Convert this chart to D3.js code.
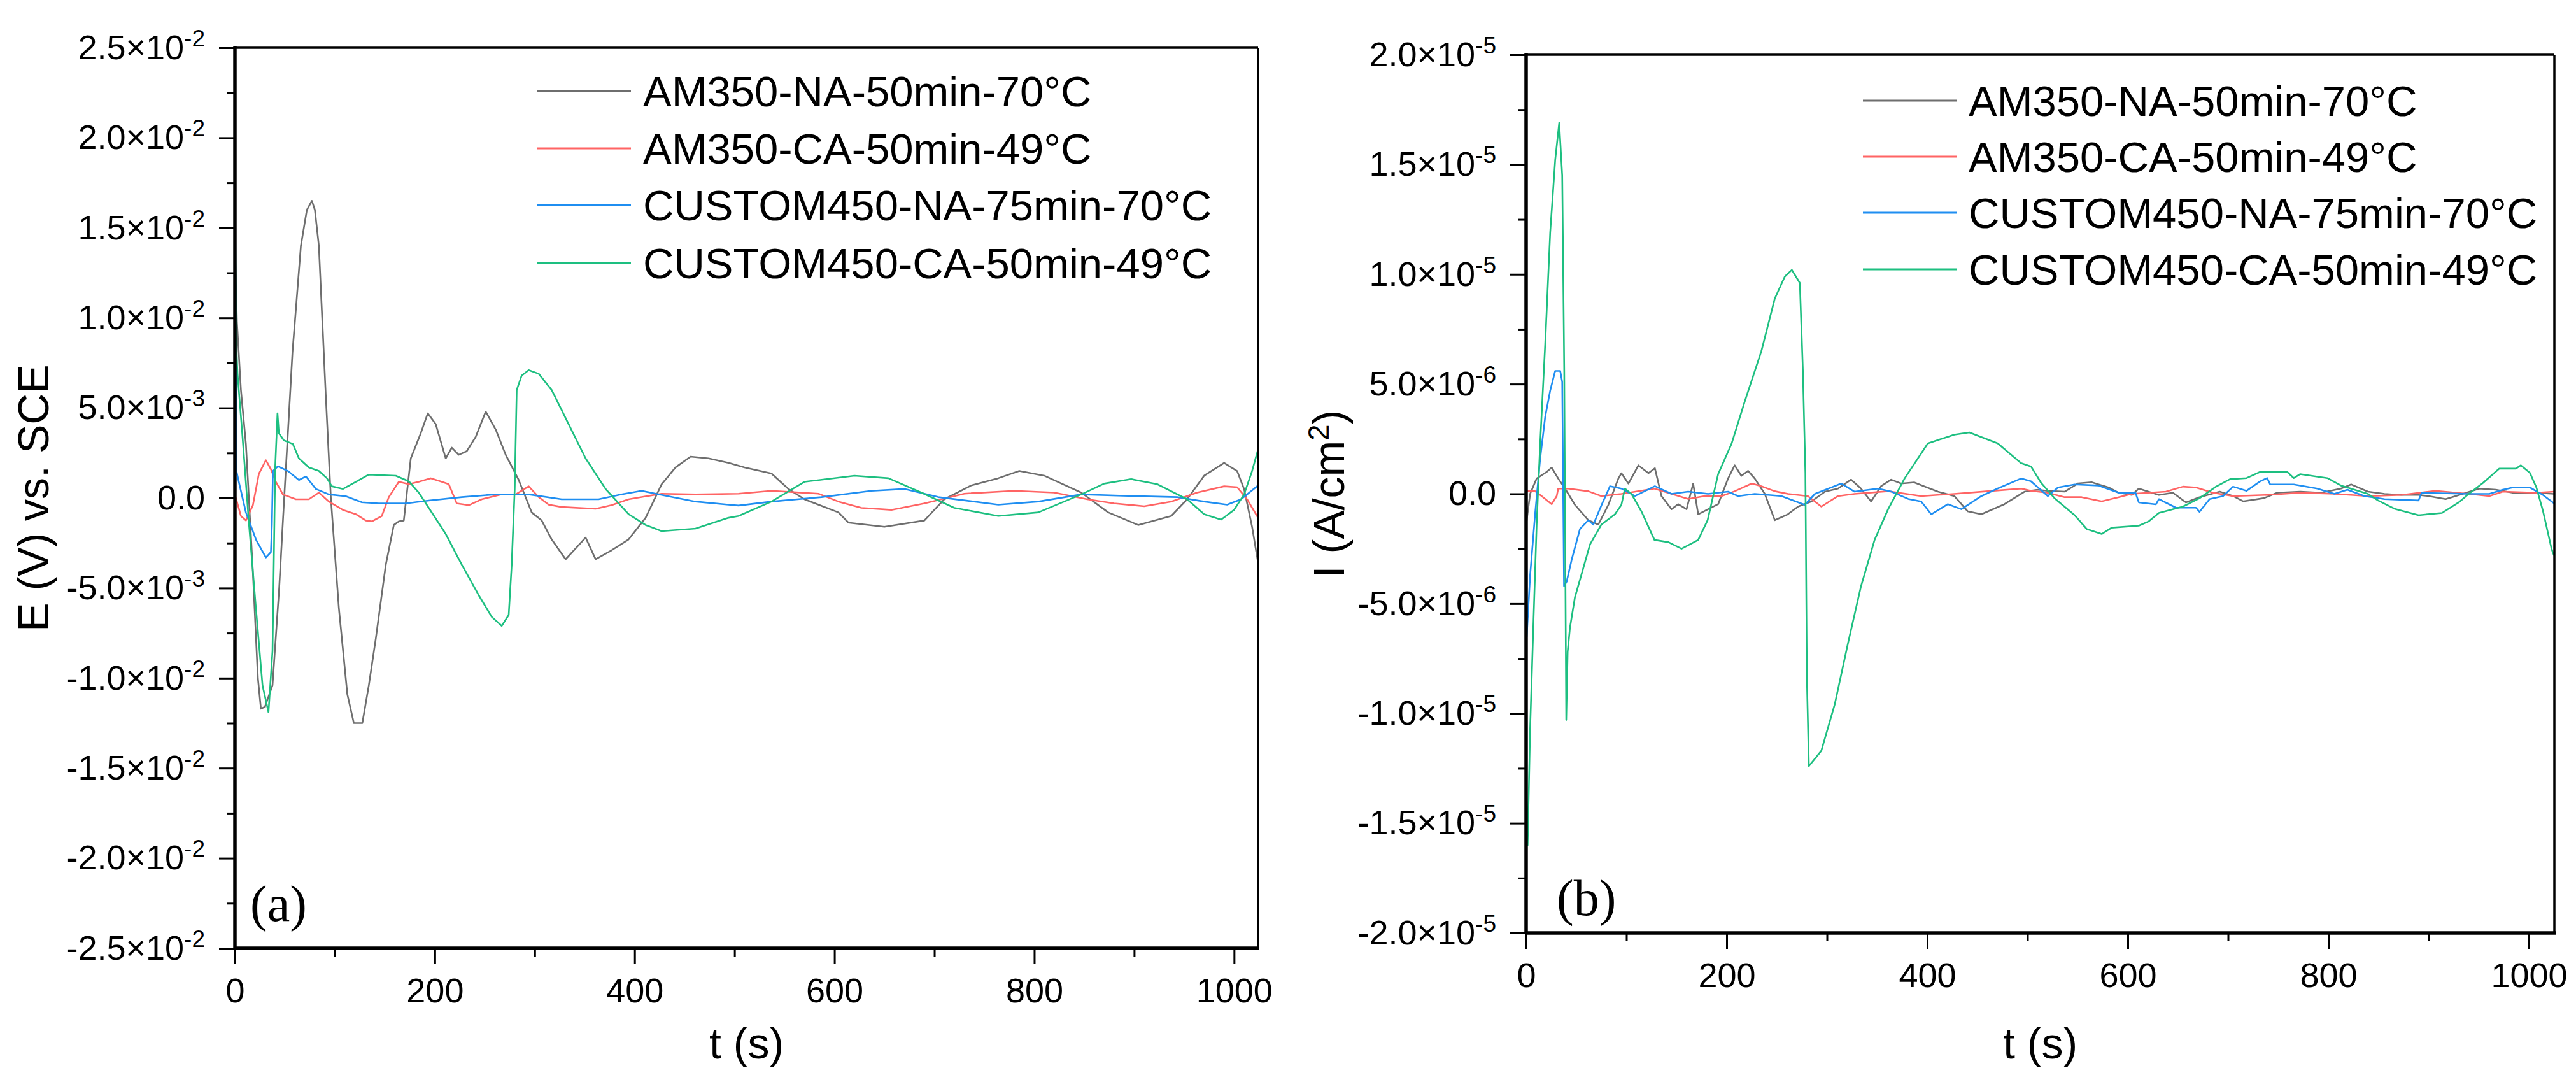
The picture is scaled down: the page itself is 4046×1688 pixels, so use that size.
<!DOCTYPE html>
<html><head><meta charset="utf-8">
<script src="https://cdn.jsdelivr.net/npm/d3@7"></script>
<style>html,body{margin:0;padding:0;background:#fff;} svg{display:block}</style>
</head><body>
<svg id="c" width="4046" height="1688"></svg>
<script>
// ---------- DATA ----------
const seriesNames = ["AM350-NA-50min-70°C","AM350-CA-50min-49°C","CUSTOM450-NA-75min-70°C","CUSTOM450-CA-50min-49°C"];
const seriesColors = ["#6e6e6e","#ff6464","#1f8ef1","#1dbf80"];

// Panel (a): E (mV) vs t (s)
const E_AM350_NA = [[0,14],[2,9.8],[6,6],[11,3],[17.6,-3.7],[23,-10],[26,-11.7],[30,-11.6],[37.6,-10.4],[44.3,-5],[49.3,0],[57.6,8.1],[66,14],[72,16],[77,16.5],[80,16],[84,14],[90.9,5.7],[96,0],[104,-6.1],[112.5,-10.9],[119,-12.5],[127.5,-12.5],[134,-10.4],[141,-7.8],[151,-3.7],[159,-1.5],[164,-1.3],[169,-1.25],[176,2.2],[186,3.6],[193,4.7],[201,4.1],[211,2.2],[217,2.8],[224,2.4],[232,2.6],[241,3.4],[251,4.8],[261,3.8],[271,2.4],[284,1.0],[297,-0.8],[307,-1.25],[317,-2.3],[331,-3.4],[341,-2.8],[351,-2.2],[361,-3.4],[377,-2.9],[394,-2.3],[411,-1.1],[427,0.76],[441,1.7],[456,2.3],[474,2.2],[494,1.95],[510,1.7],[537,1.36],[554,0.5],[570,-0.07],[604,-0.8],[614,-1.37],[650,-1.6],[690,-1.25],[710,-0.07],[737,0.7],[764,1.1],[785,1.5],[810,1.24],[847,0.3],[874,-0.8],[904,-1.5],[937,-1.0],[953,-0.07],[970,1.24],[990,1.95],[1003,1.5],[1010,0.5],[1018,-1.6],[1024,-3.6]];
const E_AM350_CA = [[0,0],[1,0],[6,-1.0],[11,-1.25],[18,-0.4],[24,1.35],[31,2.1],[36,1.6],[41,0.9],[48,0.2],[61,-0.07],[74,-0.07],[84,0.3],[94,-0.2],[108,-0.66],[121,-0.9],[131,-1.25],[137,-1.3],[147,-1.0],[154,0.05],[164,0.9],[174,0.77],[184,0.9],[196,1.1],[207,0.9],[214,0.77],[222,-0.3],[234,-0.4],[247,-0.07],[267,0.2],[281,0.2],[294,0.65],[304,0.05],[314,-0.37],[327,-0.5],[361,-0.6],[377,-0.4],[394,-0.07],[427,0.24],[461,0.2],[504,0.24],[537,0.4],[584,0.24],[604,-0.2],[627,-0.55],[657,-0.66],[690,-0.3],[730,0.24],[780,0.4],[820,0.3],[853,-0.07],[880,-0.3],[910,-0.46],[937,-0.2],[963,0.3],[990,0.65],[1003,0.6],[1013,-0.07],[1024,-1.1]];
const E_C450_NA = [[0,22],[0.8,8.5],[1.5,1.5],[4.3,0.8],[11,-0.8],[21,-2.3],[31,-3.3],[36,-3.0],[37,-1.5],[38,1.5],[43,1.76],[53,1.5],[64,1.0],[71,1.2],[81,0.5],[94,0.2],[111,0.1],[127,-0.24],[144,-0.3],[171,-0.3],[194,-0.14],[227,0.05],[261,0.2],[294,0.2],[327,-0.07],[364,-0.07],[387,0.2],[407,0.4],[424,0.2],[461,-0.2],[494,-0.37],[504,-0.42],[537,-0.2],[587,0.05],[637,0.4],[670,0.5],[704,0.05],[764,-0.37],[804,-0.2],[847,0.2],[904,0.1],[943,0.05],[970,-0.2],[993,-0.37],[1007,-0.07],[1024,0.7]];
const E_C450_CA = [[0,18.4],[1,9],[2.6,6.9],[7.6,3.4],[14,-1.4],[21,-6.1],[27.6,-10.4],[33.6,-11.9],[37.6,-8.5],[40.3,1.7],[42.6,4.7],[44,3.6],[49,3.2],[58,3.0],[64,2.2],[74,1.7],[84,1.5],[92,1.1],[97,0.65],[108,0.5],[121,0.9],[134,1.3],[161,1.24],[174,0.93],[184,0.3],[194,-0.55],[211,-2.0],[227,-3.7],[244,-5.4],[257,-6.6],[267,-7.1],[274,-6.5],[277,-3.7],[280,0.5],[282,6.0],[287,6.8],[294,7.1],[304,6.9],[317,6.0],[334,4.1],[351,2.2],[371,0.5],[394,-0.9],[411,-1.5],[427,-1.84],[461,-1.7],[494,-1.1],[504,-1.0],[537,-0.2],[570,0.9],[620,1.24],[654,1.1],[687,0.3],[720,-0.55],[764,-1.0],[804,-0.8],[847,0.2],[870,0.8],[897,1.05],[923,0.77],[953,-0.07],[970,-0.9],[987,-1.2],[1000,-0.66],[1010,0.2],[1018,1.5],[1024,2.7]];

// Panel (b): I (µA/cm²) vs t (s)
const I_AM350_NA = [[0,-1.4],[4,0],[10.5,0.7],[20.5,1.0],[25.5,1.2],[32,0.7],[38.8,0.24],[48.7,-0.5],[62,-1.2],[72,-1.4],[82,-0.5],[92,0.7],[95,0.94],[102,0.47],[112,1.3],[122,0.94],[128.4,1.17],[135,-0.1],[145,-0.7],[151.6,-0.47],[160,-0.7],[166.6,0.47],[171.6,-0.93],[181.5,-0.7],[191.5,-0.47],[201.4,0.7],[208,1.3],[214.7,0.82],[221.4,1.05],[228,0.7],[238,0],[248,-1.2],[261,-0.93],[271.2,-0.58],[284.4,-0.35],[298,0.1],[311,0.24],[324,0.65],[334,0.24],[344,-0.35],[354,0.35],[364,0.65],[374,0.47],[387,0.52],[410.6,0.1],[427,-0.1],[440.5,-0.8],[454,-0.93],[477,-0.47],[497,0.1],[510,0.19],[520,0.14],[537,0.1],[550.5,0.48],[564,0.53],[581,0.29],[591,0.05],[604,-0.05],[611,0.24],[618,0.14],[631,-0.05],[645,0.05],[658,-0.39],[671.5,-0.15],[691.7,0.1],[705,-0.1],[715,-0.34],[735.3,-0.2],[749,0.05],[772,0.1],[792.5,0.05],[812.6,0.24],[822.7,0.43],[839.5,0.1],[856,0],[873,-0.05],[890,-0.05],[900,-0.1],[917,-0.24],[927,-0.1],[950.5,0.24],[967,0.19],[984,0.05],[1007.5,0.05],[1025,0]];
const I_AM350_CA = [[0,0.12],[9,0.12],[15.5,-0.1],[25.5,-0.47],[30.5,-0.1],[32,0.24],[42,0.24],[62,0.12],[75,-0.1],[95,0],[128,0.24],[145,0],[161.6,-0.23],[178,-0.1],[195,-0.1],[208,0.12],[225,0.47],[234.6,0.35],[248,0.12],[261,0],[281,-0.1],[294.4,-0.58],[311,-0.1],[327.6,0],[361,0.12],[394,-0.1],[427,0],[460.4,0.12],[494,0.24],[503.5,0.14],[520,0.05],[537,-0.15],[554,-0.15],[574,-0.34],[591,-0.15],[604,0],[638,0.1],[655,0.33],[668,0.29],[685,0.05],[705,-0.1],[739,-0.05],[772,0.05],[806,0],[839.5,-0.1],[873,-0.05],[907,0.14],[940,0],[960.5,-0.1],[974,0.1],[1007.5,0.05],[1025,0.1]];
const I_C450_NA = [[0,12],[0.6,-6.5],[4,-3.7],[9,-0.9],[14,1.6],[19,3.5],[24,4.7],[29,5.6],[34,5.6],[36,5.1],[37.8,-4.2],[40.4,-4.0],[45.4,-3.0],[53.7,-1.6],[62,-1.2],[67,-1.4],[75.3,-0.5],[83.6,0.35],[95,0.24],[108.5,-0.1],[128.4,0.35],[145,0],[161.6,0.1],[181.5,0],[201.4,0.1],[211.4,-0.1],[228,0],[254.6,-0.1],[278,-0.5],[288,0],[314.3,0.47],[327.6,0.1],[351,0.24],[364.3,0.1],[381,-0.23],[394,-0.35],[404,-0.93],[420.6,-0.47],[434,-0.7],[454,-0.1],[470,0.24],[493.6,0.7],[503.5,0.57],[520.3,-0.1],[530.4,0.29],[547,0.43],[570.7,0.38],[591,0.05],[607.7,0.05],[611,-0.39],[628,-0.48],[631,-0.24],[648,-0.63],[668,-0.63],[671.5,-0.82],[681.6,-0.24],[695,-0.1],[705,0.33],[718.5,0.14],[732,0.57],[739,0.72],[742,0.43],[765.6,0.43],[789,0.24],[806,0],[819,0.19],[836,-0.1],[856,-0.24],[890,-0.3],[893,0.05],[940,0],[960.5,0],[974,0.19],[984,0.29],[1001,0.29],[1014,-0.05],[1025,-0.43]];
const I_C450_CA = [[0,-13],[1.5,-16],[4,-10.7],[7.2,-6.0],[10.5,-1.4],[14,2.3],[19,6.8],[24,11.9],[29,15.2],[33,16.9],[36,14.5],[38,5.6],[40,-10.3],[41.4,-7.2],[43.7,-6.1],[48.7,-4.7],[55,-3.7],[63.7,-2.3],[75,-1.4],[88.6,-0.93],[95,-0.5],[98.5,0.24],[105,0],[115,-0.8],[128,-2.1],[142,-2.2],[155,-2.5],[171.6,-2.1],[181,-1.2],[191.5,0.9],[205,2.3],[218,4.2],[234.6,6.5],[248,8.9],[258,9.9],[265,10.2],[273,9.6],[276,5.6],[278.5,0.94],[280,-8.4],[282,-12.4],[294.4,-11.7],[307.7,-9.6],[321,-6.8],[334,-4.2],[347.5,-2.1],[361,-0.7],[377.4,0.7],[400.6,2.3],[427,2.7],[442,2.8],[470.4,2.3],[493.6,1.4],[503.5,1.25],[513.6,0.5],[527,-0.2],[547,-0.97],[559,-1.6],[574,-1.83],[584,-1.54],[611,-1.45],[621,-1.25],[631,-0.87],[655,-0.58],[671.5,-0.2],[688,0.33],[702,0.67],[718.5,0.72],[732,1.0],[759,1.0],[765.6,0.72],[772,0.9],[799,0.72],[812.6,0.38],[826,0.19],[839.5,0],[849.6,-0.3],[866,-0.68],[890,-0.97],[913.4,-0.87],[930,-0.39],[940,0],[953.7,0.48],[970.5,1.15],[987,1.15],[992,1.3],[1001,0.96],[1007.5,0.29],[1014,-0.77],[1022.6,-2.5],[1025,-2.8]];

// Ticks
const xTicks = [0,200,400,600,800,1000];
const xMinorTicks = [100,300,500,700,900];
const yTicksA = [-25,-20,-15,-10,-5,0,5,10,15,20,25];           // mV
const yTickLabelsA = ["-2.5×10^-2","-2.0×10^-2","-1.5×10^-2","-1.0×10^-2","-5.0×10^-3","0.0","5.0×10^-3","1.0×10^-2","1.5×10^-2","2.0×10^-2","2.5×10^-2"];
const yMinorA = [-22.5,-17.5,-12.5,-7.5,-2.5,2.5,7.5,12.5,17.5,22.5];
const yTicksB = [-20,-15,-10,-5,0,5,10,15,20];                   // µA/cm²
const yTickLabelsB = ["-2.0×10^-5","-1.5×10^-5","-1.0×10^-5","-5.0×10^-6","0.0","5.0×10^-6","1.0×10^-5","1.5×10^-5","2.0×10^-5"];
const yMinorB = [-17.5,-12.5,-7.5,-2.5,2.5,7.5,12.5,17.5];

// ---------- DRAW ----------
const svg = d3.select("#c");
const FONT = "'Liberation Sans', Arial, Helvetica, sans-serif";

function drawPanel(p) {
  const x = d3.scaleLinear().domain([0, p.xMax]).range([p.x0, p.x1]);
  const y = d3.scaleLinear().domain([p.yMin, p.yMax]).range([p.y0, p.y1]);
  const g = svg.append("g");
  const clipId = "clip" + p.id;
  svg.append("clipPath").attr("id", clipId).append("rect")
    .attr("x", p.x0).attr("y", p.y1).attr("width", p.x1 - p.x0).attr("height", p.y0 - p.y1);

  const line = d3.line().x(d => x(d[0])).y(d => y(d[1]));
  p.series.forEach((s, i) => {
    g.append("path").attr("d", line(s)).attr("fill", "none")
      .attr("stroke", seriesColors[i]).attr("stroke-width", 2.6)
      .attr("stroke-linejoin", "round").attr("clip-path", `url(#${clipId})`);
  });

  // frame top & right (thin)
  g.append("line").attr("x1", p.x0).attr("x2", p.x1).attr("y1", p.y1).attr("y2", p.y1)
    .attr("stroke", "#000").attr("stroke-width", 3.5);
  g.append("line").attr("x1", p.x1).attr("x2", p.x1).attr("y1", p.y1).attr("y2", p.y0)
    .attr("stroke", "#000").attr("stroke-width", 3.5);

  // y axis
  const yAx = g.append("g").attr("transform", `translate(${p.x0},0)`)
    .call(d3.axisLeft(y).tickValues(p.yTicks).tickSize(25).tickPadding(22).tickSizeOuter(0));
  yAx.select(".domain").remove();
  yAx.selectAll(".tick line").attr("stroke-width", 3);
  yAx.selectAll(".tick text").attr("font-family", FONT).attr("font-size", 54).attr("fill", "#000")
    .each(function(d, i) {
      const parts = p.yLabels[i].split("^");
      const t = d3.select(this); t.text(null);
      t.append("tspan").text(parts[0]);
      if (parts[1]) t.append("tspan").attr("dy", -20).attr("font-size", 37).text(parts[1]);
    });
  const yMin = g.append("g").attr("transform", `translate(${p.x0},0)`)
    .call(d3.axisLeft(y).tickValues(p.yMinor).tickSize(13).tickFormat(""));
  yMin.select(".domain").remove();
  yMin.selectAll(".tick line").attr("stroke-width", 3);

  // x axis
  const xAx = g.append("g").attr("transform", `translate(0,${p.y0})`)
    .call(d3.axisBottom(x).tickValues(xTicks).tickSize(25).tickPadding(22).tickSizeOuter(0).tickFormat(d3.format("d")));
  xAx.select(".domain").remove();
  xAx.selectAll(".tick line").attr("stroke-width", 3);
  xAx.selectAll(".tick text").attr("font-family", FONT).attr("font-size", 54).attr("fill", "#000");
  const xMin = g.append("g").attr("transform", `translate(0,${p.y0})`)
    .call(d3.axisBottom(x).tickValues(xMinorTicks).tickSize(13).tickFormat(""));
  xMin.select(".domain").remove();
  xMin.selectAll(".tick line").attr("stroke-width", 3);

  // thick axis lines
  g.append("line").attr("x1", p.x0).attr("x2", p.x0).attr("y1", p.y1 - 2).attr("y2", p.y0 + 2)
    .attr("stroke", "#000").attr("stroke-width", 5.5);
  g.append("line").attr("x1", p.x0 - 2).attr("x2", p.x1 + 2).attr("y1", p.y0).attr("y2", p.y0)
    .attr("stroke", "#000").attr("stroke-width", 5.5);

  // axis titles
  g.append("text").attr("x", (p.x0 + p.x1) / 2).attr("y", p.xTitleY)
    .attr("text-anchor", "middle").attr("font-family", FONT).attr("font-size", 68).text("t (s)");
  const yt = g.append("text").attr("transform", `translate(${p.yTitleX},${(p.y0 + p.y1) / 2}) rotate(-90)`)
    .attr("text-anchor", "middle").attr("dy", "0.36em").attr("font-family", FONT).attr("font-size", 68);
  p.yTitle(yt);

  // panel label
  g.append("text").attr("x", p.labX).attr("y", p.labY).attr("font-family", "'Liberation Serif', 'Times New Roman', serif")
    .attr("font-size", 80).text(p.label);

  // legend
  seriesNames.forEach((n, i) => {
    const ly = p.legY[i];
    g.append("line").attr("x1", p.legX).attr("x2", p.legX + 147).attr("y1", ly).attr("y2", ly)
      .attr("stroke", seriesColors[i]).attr("stroke-width", 3);
    g.append("text").attr("x", p.legX + 166).attr("y", ly).attr("dy", "0.36em")
      .attr("font-family", FONT).attr("font-size", 67).text(n);
  });
}

drawPanel({
  id: "a", x0: 369, x1: 1976, y0: 1489, y1: 75, xMax: 1024, yMin: -25, yMax: 25,
  yTicks: yTicksA, yLabels: yTickLabelsA, yMinor: yMinorA,
  series: [E_AM350_NA, E_AM350_CA, E_C450_NA, E_C450_CA],
  xTitleY: 1662, yTitleX: 52,
  yTitle: t => t.text("E (V) vs. SCE"),
  label: "(a)", labX: 393, labY: 1446,
  legX: 844, legY: [143, 233, 322, 413]
});
drawPanel({
  id: "b", x0: 2397, x1: 4012, y0: 1465, y1: 86, xMax: 1025.4, yMin: -20, yMax: 20,
  yTicks: yTicksB, yLabels: yTickLabelsB, yMinor: yMinorB,
  series: [I_AM350_NA, I_AM350_CA, I_C450_NA, I_C450_CA],
  xTitleY: 1662, yTitleX: 2087,
  yTitle: t => { t.append("tspan").text("I (A/cm"); t.append("tspan").attr("dy", -24).attr("font-size", 46).text("2"); t.append("tspan").attr("dy", 24).text(")"); },
  label: "(b)", labX: 2445, labY: 1437,
  legX: 2926, legY: [158, 246, 334, 423]
});
</script>
</body></html>
